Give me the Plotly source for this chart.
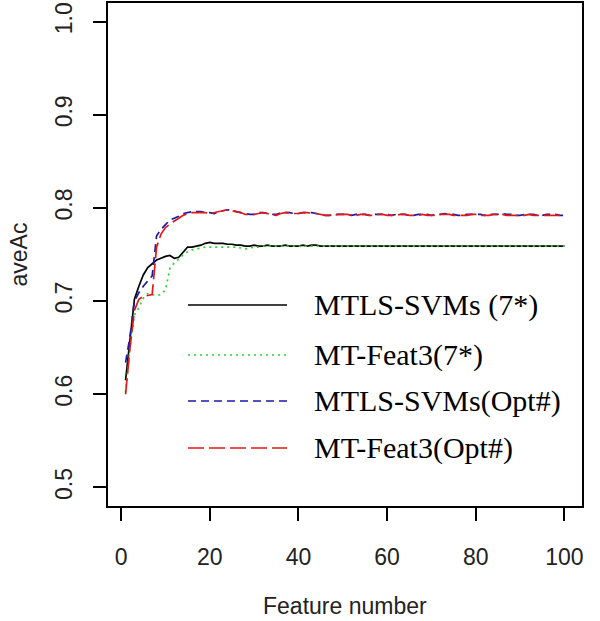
import plotly.graph_objects as go

features = list(range(1, 101))

# MTLS-SVMs (7*)  - black solid
svm_7 = [0.615, 0.660, 0.702, 0.716, 0.728, 0.736, 0.740, 0.744, 0.746, 0.748,
         0.749, 0.746, 0.747, 0.753, 0.758, 0.758, 0.759, 0.760, 0.762, 0.763,
         0.762, 0.762, 0.762, 0.761, 0.761, 0.760, 0.760, 0.759, 0.759, 0.760,
         0.759, 0.759, 0.760, 0.759, 0.759, 0.759, 0.760, 0.759, 0.759, 0.759,
         0.760, 0.759, 0.760, 0.760, 0.759, 0.759, 0.759, 0.759, 0.759, 0.759,
         0.759, 0.759, 0.759, 0.759, 0.759, 0.759, 0.759, 0.759, 0.759, 0.759,
         0.759, 0.759, 0.759, 0.759, 0.759, 0.759, 0.759, 0.759, 0.759, 0.759,
         0.759, 0.759, 0.759, 0.759, 0.759, 0.759, 0.759, 0.759, 0.759, 0.759,
         0.759, 0.759, 0.759, 0.759, 0.759, 0.759, 0.759, 0.759, 0.759, 0.759,
         0.759, 0.759, 0.759, 0.759, 0.759, 0.759, 0.759, 0.759, 0.759, 0.759]

# MT-Feat3(7*) - green dotted
feat3_7 = [0.602, 0.650, 0.685, 0.693, 0.703, 0.708, 0.707, 0.706, 0.707, 0.712,
           0.735, 0.741, 0.745, 0.750, 0.753, 0.755, 0.756, 0.757, 0.758, 0.758,
           0.758, 0.758, 0.758, 0.758, 0.758, 0.758, 0.757, 0.756, 0.757, 0.758,
           0.758, 0.759, 0.759, 0.759, 0.759, 0.759, 0.759, 0.759, 0.759, 0.759,
           0.759, 0.759, 0.759, 0.759, 0.759, 0.759, 0.759, 0.759, 0.759, 0.759,
           0.759, 0.759, 0.759, 0.759, 0.759, 0.759, 0.759, 0.759, 0.759, 0.759,
           0.759, 0.759, 0.759, 0.759, 0.759, 0.759, 0.759, 0.759, 0.759, 0.759,
           0.759, 0.759, 0.759, 0.759, 0.759, 0.759, 0.759, 0.759, 0.759, 0.759,
           0.759, 0.759, 0.759, 0.759, 0.759, 0.759, 0.759, 0.759, 0.759, 0.759,
           0.759, 0.759, 0.759, 0.759, 0.759, 0.759, 0.759, 0.759, 0.759, 0.759]

# MTLS-SVMs(Opt#) - blue dashed
svm_opt = [0.634, 0.662, 0.700, 0.709, 0.716, 0.722, 0.727, 0.770, 0.777, 0.782,
           0.787, 0.789, 0.791, 0.794, 0.795, 0.796, 0.796, 0.796, 0.795, 0.795,
           0.794, 0.796, 0.797, 0.798, 0.797, 0.796, 0.795, 0.794, 0.793, 0.793,
           0.795, 0.795, 0.794, 0.793, 0.793, 0.795, 0.795, 0.795, 0.794, 0.794,
           0.795, 0.795, 0.795, 0.794, 0.793, 0.792, 0.792, 0.793, 0.793, 0.793,
           0.793, 0.792, 0.793, 0.793, 0.793, 0.792, 0.793, 0.793, 0.793, 0.793,
           0.792, 0.793, 0.793, 0.793, 0.792, 0.792, 0.793, 0.793, 0.793, 0.792,
           0.793, 0.793, 0.794, 0.793, 0.793, 0.792, 0.792, 0.793, 0.793, 0.793,
           0.793, 0.792, 0.793, 0.793, 0.793, 0.794, 0.793, 0.793, 0.792, 0.792,
           0.793, 0.793, 0.793, 0.792, 0.792, 0.793, 0.793, 0.793, 0.792, 0.792]

# MT-Feat3(Opt#) - red long dash
feat3_opt = [0.600, 0.650, 0.690, 0.702, 0.705, 0.706, 0.707, 0.758, 0.772, 0.779,
             0.783, 0.786, 0.789, 0.792, 0.794, 0.795, 0.795, 0.795, 0.795, 0.794,
             0.795, 0.796, 0.797, 0.798, 0.797, 0.796, 0.795, 0.793, 0.793, 0.793,
             0.794, 0.795, 0.794, 0.793, 0.792, 0.794, 0.795, 0.795, 0.794, 0.794,
             0.795, 0.795, 0.794, 0.794, 0.793, 0.792, 0.792, 0.792, 0.793, 0.793,
             0.793, 0.792, 0.792, 0.793, 0.793, 0.792, 0.792, 0.793, 0.793, 0.792,
             0.792, 0.792, 0.793, 0.793, 0.792, 0.792, 0.792, 0.793, 0.792, 0.792,
             0.792, 0.793, 0.793, 0.793, 0.792, 0.792, 0.792, 0.792, 0.793, 0.793,
             0.792, 0.792, 0.792, 0.793, 0.793, 0.793, 0.792, 0.792, 0.792, 0.792,
             0.792, 0.793, 0.792, 0.792, 0.792, 0.792, 0.792, 0.792, 0.792, 0.792]

series_names = ["MTLS-SVMs (7*)", "MT-Feat3(7*)", "MTLS-SVMs(Opt#)", "MT-Feat3(Opt#)"]
series_values = [svm_7, feat3_7, svm_opt, feat3_opt]
colors = ["#000000", "#2ad42a", "#1a1aaa", "#dd1a1a"]
dashes = ["solid", "2px,4px", "8px,5px", "16px,5px"]

x_ticks = [0, 20, 40, 60, 80, 100]
y_ticks = [0.5, 0.6, 0.7, 0.8, 0.9, 1.0]
y_tick_text = ["0.5", "0.6", "0.7", "0.8", "0.9", "1.0"]

fig = go.Figure()
for name, vals, c, d in zip(series_names, series_values, colors, dashes):
    fig.add_trace(go.Scatter(x=features, y=vals, mode="lines", name=name,
                             line=dict(color=c, width=1.7, dash=d), showlegend=False))

# Custom legend (long line samples as in the original)
leg_y = [305, 355, 401, 448]
plot_l, plot_r, plot_t, plot_b = 108, 582, 3, 506
pw, ph = plot_r - plot_l, plot_b - plot_t
for name, c, d, py in zip(series_names, colors, dashes, leg_y):
    yp = (plot_b - py) / ph
    fig.add_shape(type="line", xref="paper", yref="paper",
                  x0=(188 - plot_l) / pw, x1=(287 - plot_l) / pw, y0=yp, y1=yp,
                  line=dict(color=c, width=1.7, dash=d))
    fig.add_annotation(xref="paper", yref="paper", x=(312 - plot_l) / pw, y=yp,
                       text=name, showarrow=False, xanchor="left", yanchor="middle",
                       font=dict(family="Liberation Serif", size=30, color="#000"))

axis_font = dict(family="Liberation Sans", size=23, color="#222")

# Axis titles as annotations (fixed positions)
fig.add_annotation(xref="paper", yref="paper", x=0.5, y=(plot_b - 606) / ph,
                   text="Feature number", showarrow=False, xanchor="center",
                   yanchor="middle", font=axis_font)
fig.add_annotation(xref="paper", yref="paper", x=(18 - plot_l) / pw, y=0.5,
                   text="aveAc", showarrow=False, xanchor="center",
                   yanchor="middle", textangle=-90, font=axis_font)

fig.update_layout(
    width=600, height=621,
    margin=dict(l=plot_l, r=600 - plot_r, t=plot_t, b=621 - plot_b, autoexpand=False),
    paper_bgcolor="white", plot_bgcolor="white",
    font=axis_font,
    xaxis=dict(range=[-2.96, 103.96], tickvals=x_ticks, ticks="outside", ticklen=13,
               tickwidth=1.5, tickcolor="#000", showline=True, linecolor="#000",
               linewidth=1.5, mirror=True, showgrid=False, zeroline=False,
               automargin=False, ticklabelstandoff=17, tickfont=axis_font),
    yaxis=dict(range=[0.48, 1.02], tickvals=y_ticks, ticktext=y_tick_text,
               ticks="outside", ticklen=13, tickangle=-90,
               tickwidth=1.5, tickcolor="#000", showline=True, linecolor="#000",
               linewidth=1.5, mirror=True, showgrid=False, zeroline=False,
               automargin=False, ticklabelstandoff=12, tickfont=axis_font),
)

fig.write_html("out.html", config={"displayModeBar": False},
               post_script="document.body.style.margin='0';document.body.style.padding='0';")
